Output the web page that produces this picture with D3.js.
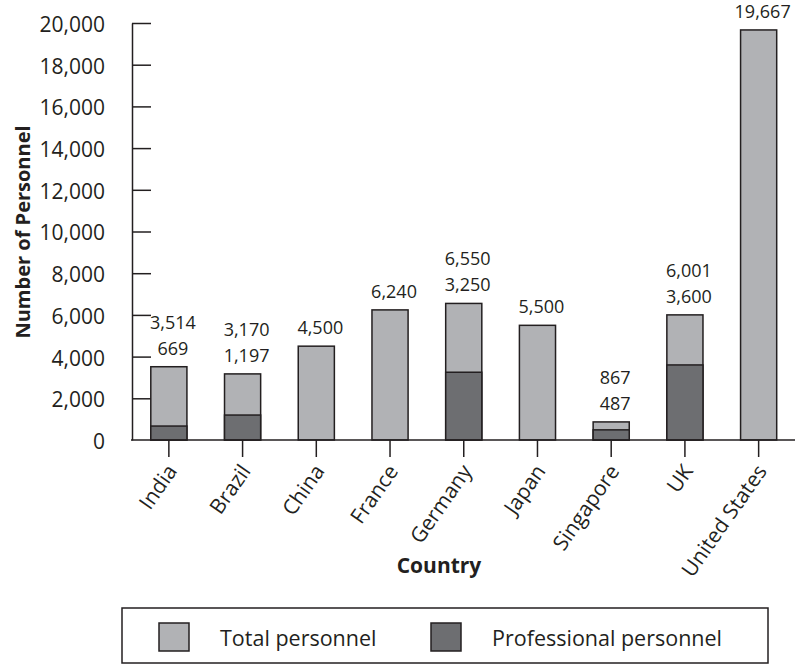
<!DOCTYPE html>
<html lang="en">
  <head>
    <meta charset="UTF-8" />
    <title>Number of Personnel by Country</title>
    <style>
      body {
        margin: 0;
        background: #fff;
      }
      text {
        font-family: "Open Sans", "Noto Sans", sans-serif;
        fill: #231f20;
      }
      .axis path,
      .axis line {
        stroke: #231f20;
        stroke-width: 1.5px;
      }
      .bar {
        stroke: #231f20;
        stroke-width: 1.5px;
      }
    </style>
  </head>
  <body>
    <div id="chart"></div>
    <script src="https://cdn.jsdelivr.net/npm/d3@7"></script>
    <script>
      /* global d3 */

      // values
      let countries = ["India", "Brazil", "China", "France", "Germany", "Japan", "Singapore", "UK", "United States"];
      let totalPersonnel = [3514, 3170, 4500, 6240, 6550, 5500, 867, 6001, 19667];
      let professionalPersonnel = [669, 1197, null, null, 3250, null, 487, 3600, null];
      let yTicks = [0, 2000, 4000, 6000, 8000, 10000, 12000, 14000, 16000, 18000, 20000];

      let width = 795,
        height = 664;

      let lightGrey = "#b1b2b5",
        darkGrey = "#6d6e71";

      let svg = d3
        .select("#chart")
        .append("svg")
        .attr("width", width)
        .attr("height", height);

      let x = d3
        .scaleBand()
        .domain(countries)
        .range([132, 795.5])
        .paddingInner(0.51)
        .paddingOuter(0.255);

      let y = d3.scaleLinear().domain([0, 20000]).range([440, 23]);

      let fmt = d3.format(",");

      let rows = countries.map(function (c, i) {
        return { country: c, total: totalPersonnel[i], pro: professionalPersonnel[i] };
      });

      // y axis, ticks pointing into the plot
      let yAxis = svg
        .append("g")
        .attr("class", "axis")
        .attr("transform", "translate(132,0)")
        .call(
          d3
            .axisLeft(y)
            .tickValues(yTicks)
            .tickSizeInner(-19)
            .tickSizeOuter(0)
            .tickPadding(27)
            .tickFormat(fmt)
        );
      yAxis.selectAll(".tick line").filter(function (d) { return d === 0; }).remove();
      yAxis.selectAll(".tick text").attr("font-size", 21).attr("dy", "0.4em").style("font-family", "'Open Sans', sans-serif");

      // bars
      svg
        .append("g")
        .selectAll("rect")
        .data(rows)
        .join("rect")
        .attr("class", "bar")
        .attr("x", function (d) { return x(d.country); })
        .attr("y", function (d) { return y(d.total); })
        .attr("width", x.bandwidth())
        .attr("height", function (d) { return y(0) - y(d.total); })
        .attr("fill", lightGrey);

      svg
        .append("g")
        .selectAll("rect")
        .data(rows.filter(function (d) { return d.pro != null; }))
        .join("rect")
        .attr("class", "bar")
        .attr("x", function (d) { return x(d.country); })
        .attr("y", function (d) { return y(d.pro); })
        .attr("width", x.bandwidth())
        .attr("height", function (d) { return y(0) - y(d.pro); })
        .attr("fill", darkGrey);

      // x axis
      let xAxis = svg
        .append("g")
        .attr("class", "axis")
        .attr("transform", "translate(0,440)")
        .call(d3.axisBottom(x).tickSizeInner(17).tickSizeOuter(0));
      xAxis.select(".domain").attr("d", "M131,0H795");
      xAxis
        .selectAll(".tick text")
        .attr("font-size", 21)
        .attr("text-anchor", "end")
        .attr("x", 0)
        .attr("y", 0)
        .attr("dy", "0.35em")
        .attr("transform", "translate(3,27) rotate(-55)")
        .style("font-family", "'Open Sans', sans-serif");

      // value labels above bars
      let labels = svg.append("g").attr("font-size", 18).attr("text-anchor", "middle");
      rows.forEach(function (d) {
        let cx = x(d.country) + x.bandwidth() / 2 + 4;
        let top = y(d.total);
        if (d.pro != null) {
          labels.append("text").attr("x", cx).attr("y", top - 12).text(fmt(d.pro));
          labels.append("text").attr("x", cx).attr("y", top - 38).text(fmt(d.total));
        } else {
          labels.append("text").attr("x", cx).attr("y", top - 12).text(fmt(d.total));
        }
      });

      // axis titles
      svg
        .append("text")
        .attr("transform", "translate(30,232) rotate(-90)")
        .attr("text-anchor", "middle")
        .attr("font-size", 20)
        .attr("font-weight", "bold")
        .text("Number of Personnel");

      svg
        .append("text")
        .attr("x", 439)
        .attr("y", 573)
        .attr("text-anchor", "middle")
        .attr("font-size", 21)
        .attr("font-weight", "bold")
        .text("Country");

      // legend
      let legend = svg.append("g");
      legend
        .append("rect")
        .attr("x", 122)
        .attr("y", 608)
        .attr("width", 646)
        .attr("height", 55)
        .attr("fill", "none")
        .attr("stroke", "#231f20")
        .attr("stroke-width", 1.5);

      let legendItems = [
        { label: "Total personnel", color: lightGrey, x: 159 },
        { label: "Professional personnel", color: darkGrey, x: 431 }
      ];
      legendItems.forEach(function (item) {
        legend
          .append("rect")
          .attr("class", "bar")
          .attr("x", item.x)
          .attr("y", 623)
          .attr("width", 30)
          .attr("height", 28)
          .attr("fill", item.color);
        legend
          .append("text")
          .attr("x", item.x + 61)
          .attr("y", 646)
          .attr("font-size", 21.5)
          .text(item.label);
      });
    </script>
  </body>
</html>
